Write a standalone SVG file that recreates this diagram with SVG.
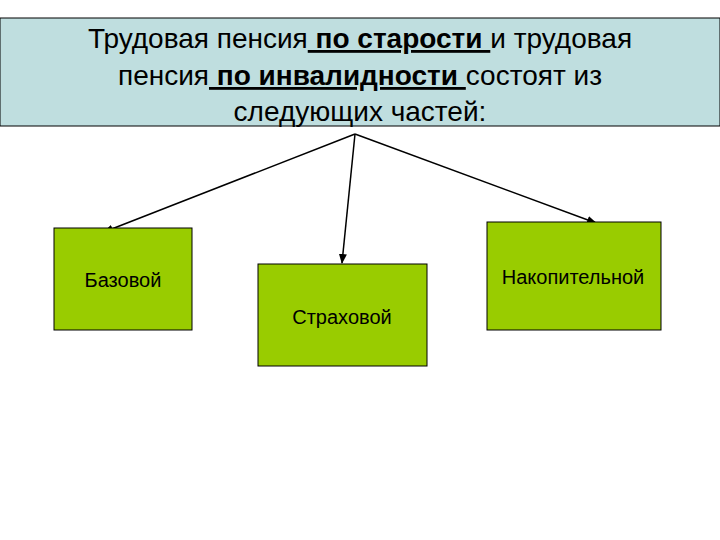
<svg xmlns="http://www.w3.org/2000/svg" width="720" height="540" viewBox="0 0 720 540">
<style>
.t{font-family:"Liberation Sans",Arial,sans-serif;font-size:28px;fill:#000;text-anchor:middle}
.b{font-weight:bold;text-decoration:underline}
.box{fill:#99CC00;stroke:#000;stroke-width:1}
.l{font-family:"Liberation Sans",Arial,sans-serif;font-size:20px;fill:#000;text-anchor:middle}
.c{stroke:#000;stroke-width:1.5;fill:none;marker-end:url(#a)}
</style>
<defs><marker id="a" markerWidth="10" markerHeight="8" refX="9" refY="4" orient="auto" markerUnits="userSpaceOnUse"><path d="M0,0 L10,4 L0,8 Z" fill="#000"/></marker></defs>
<rect width="720" height="540" fill="#fff"/>
<g id="title">
<rect x="0" y="18" width="720" height="108" fill="#BFDEDF" stroke="#000" stroke-width="1"/>
<text class="t" x="360" y="48">Трудовая пенсия<tspan class="b"> по старости </tspan>и трудовая</text>
<text class="t" x="360" y="85">пенсия<tspan class="b"> по инвалидности </tspan>состоят из</text>
<text class="t" x="360" y="121">следующих частей:</text>
</g>
<g id="connectors">
<line class="c" x1="355" y1="134" x2="104" y2="232"/>
<line class="c" x1="355" y1="134" x2="342" y2="263"/>
<line class="c" x1="355" y1="134" x2="596" y2="223"/>
</g>
<g id="n1"><rect class="box" x="54" y="228" width="138" height="102"/><text class="l" x="123" y="287">Базовой</text></g>
<g id="n2"><rect class="box" x="258" y="264" width="169" height="102"/><text class="l" x="342" y="324">Страховой</text></g>
<g id="n3"><rect class="box" x="487" y="222" width="174" height="108"/><text class="l" x="573" y="284">Накопительной</text></g>
</svg>
